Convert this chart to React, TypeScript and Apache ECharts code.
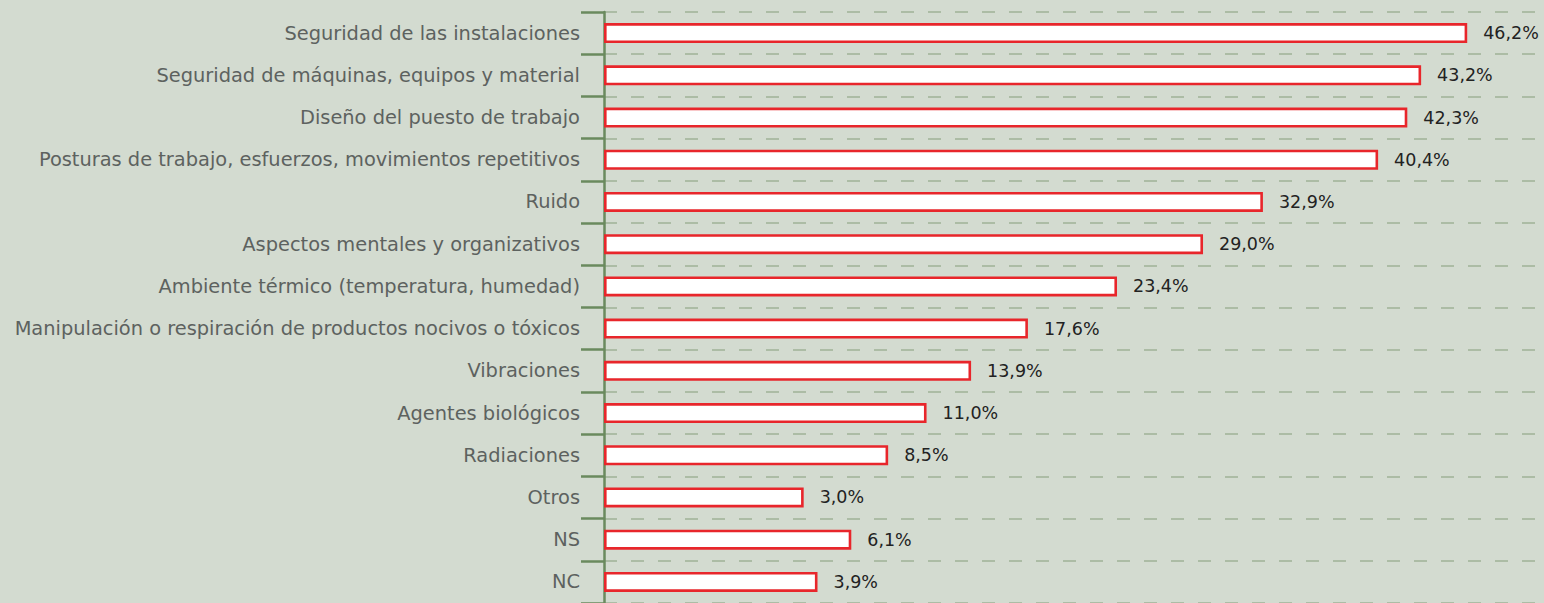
import React, { useEffect, useRef } from "react";
import * as echarts from "echarts";

const categories = [
  "Seguridad de las instalaciones",
  "Seguridad de máquinas, equipos y material",
  "Diseño del puesto de trabajo",
  "Posturas de trabajo, esfuerzos, movimientos repetitivos",
  "Ruido",
  "Aspectos mentales y organizativos",
  "Ambiente térmico (temperatura, humedad)",
  "Manipulación o respiración de productos nocivos o tóxicos",
  "Vibraciones",
  "Agentes biológicos",
  "Radiaciones",
  "Otros",
  "NS",
  "NC",
];

const values = [46.2, 43.2, 42.3, 40.4, 32.9, 29.0, 23.4, 17.6, 13.9, 11.0, 8.5, 3.0, 6.1, 3.9];

// The value axis of the original starts at -10 (bars grow from the axis line)
const axisStart = -10;
const axisEnd = 51.2;

export default function App() {
  const ref = useRef<HTMLDivElement>(null);
  useEffect(() => {
    if (!ref.current) return;
    const chart = echarts.init(ref.current, null, { renderer: "svg" });
    chart.setOption({
      animation: false,
      backgroundColor: "#d3dbd0",
      grid: { left: 604, right: 0, top: 12, height: 595, containLabel: false },
      xAxis: {
        type: "value",
        min: 0,
        max: axisEnd - axisStart,
        show: false,
        splitLine: { show: false },
      },
      yAxis: {
        type: "category",
        data: categories,
        inverse: true,
        axisLine: { show: true, lineStyle: { color: "#6a8a5e", width: 2.5 } },
        axisTick: { show: true, length: 23, lineStyle: { color: "#6a8a5e", width: 2.5 } },
        axisLabel: {
          margin: 24,
          color: "#5d625f",
          fontFamily: "DejaVu Sans, Verdana, sans-serif",
          fontSize: 19.4,
          padding: [4, 0, 0, 0],
        },
        splitLine: {
          show: true,
          lineStyle: { color: "#a0b296", width: 1.5, type: [13, 14] },
        },
      },
      series: [
        {
          type: "bar",
          data: values.map((v) => v - axisStart),
          barWidth: 20,
          itemStyle: { color: "#ffffff", borderColor: "#e8262b", borderWidth: 2.6 },
          label: {
            show: true,
            position: "right",
            distance: 16,
            color: "#222222",
            fontFamily: "DejaVu Sans, Verdana, sans-serif",
            fontSize: 17.5,
            formatter: (p: any) => values[p.dataIndex].toFixed(1).replace(".", ",") + "%",
          },
        },
      ],
    });
    return () => chart.dispose();
  }, []);
  return (
    <div
      ref={ref}
      style={{ position: "absolute", left: 0, top: 0, width: 1544, height: 603 }}
    />
  );
}
